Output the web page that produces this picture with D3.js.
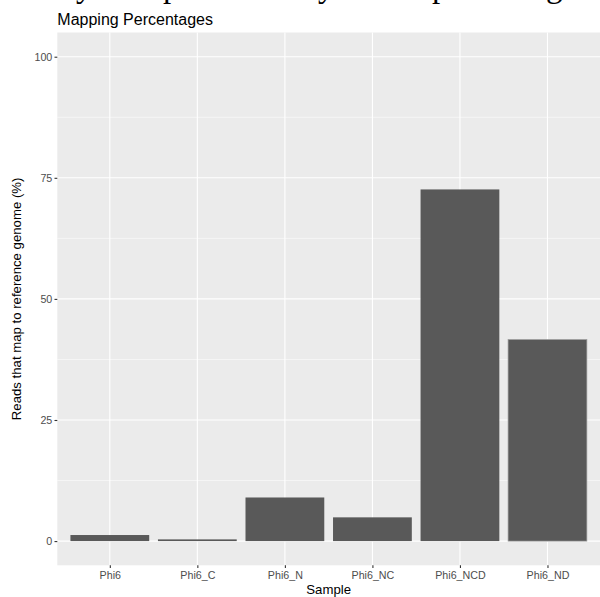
<!DOCTYPE html>
<html>
<head>
<meta charset="utf-8">
<script src="https://cdn.jsdelivr.net/npm/d3@7"></script>
<style>
  body { margin: 0; background: #fff; }
  svg { display: block; }
</style>
</head>
<body>
<svg id="svg1"></svg>
<script>
// Data
const samples = ["Phi6", "Phi6_C", "Phi6_N", "Phi6_NC", "Phi6_NCD", "Phi6_ND"];
const mappedPct = [1.25, 0.35, 9.0, 4.9, 72.6, 41.6];
const yTicks = [0, 25, 50, 75, 100];
const yMinor = [12.5, 37.5, 62.5, 87.5];

// Size
const width = 600;
const height = 597;
const margin = { top: 32.5, right: 0, bottom: 31.7, left: 57.3 };

const svg = d3.select("#svg1")
    .attr("width", width)
    .attr("height", height)
    .style("font-family", "'Liberation Sans', Arial, sans-serif");

// clipped line of page text above the figure (only the descenders show)
const headWords = [
    { w: "Summary", at: 76 },
    { w: "of", at: null },
    { w: "top", at: 163 },
    { w: "five", at: null },
    { w: "hits", at: null },
    { w: "by", at: 318 },
    { w: "mean", at: null },
    { w: "percent", at: 432 },
    { w: "gain", at: 546 }
];
const head = svg.append("text")
    .attr("y", -3.5)
    .style("font-family", "'Liberation Serif', 'Times New Roman', serif")
    .style("font-size", "33px")
    .attr("fill", "#000");
headWords.forEach(d => {
    const t = head.append("tspan").text(d.w + " ");
    if (d.at !== null) {
        const node = t.node();
        const idx = d.w.search(/[gjpqy]/);
        const before = idx > 0 ? node.getSubStringLength(0, idx) : 0;
        t.attr("x", d.at - before);
    }
});

// x: ggplot discrete, 0.6 expansion each side
const x = d3.scaleLinear()
    .domain([0.4, samples.length + 0.6])
    .range([margin.left, width - margin.right]);

const y = d3.scaleLinear()
    .domain([-5, 105])
    .range([height - margin.bottom, margin.top]);

const panel = svg.append("g");

panel.append("rect")
    .attr("x", x(0.4))
    .attr("y", y(105))
    .attr("width", x(samples.length + 0.6) - x(0.4))
    .attr("height", y(-5) - y(105))
    .attr("fill", "#EBEBEB");

// minor grid
panel.selectAll(".minor")
    .data(yMinor)
    .enter()
    .append("line")
    .attr("x1", x(0.4)).attr("x2", x(samples.length + 0.6))
    .attr("y1", d => y(d)).attr("y2", d => y(d))
    .attr("stroke", "#fff")
    .attr("stroke-width", 0.55);

// major grid
panel.selectAll(".major")
    .data(yTicks)
    .enter()
    .append("line")
    .attr("x1", x(0.4)).attr("x2", x(samples.length + 0.6))
    .attr("y1", d => y(d)).attr("y2", d => y(d))
    .attr("stroke", "#fff")
    .attr("stroke-width", 1.1);

panel.selectAll(".vgrid")
    .data(samples)
    .enter()
    .append("line")
    .attr("x1", (d, i) => x(i + 1)).attr("x2", (d, i) => x(i + 1))
    .attr("y1", y(105)).attr("y2", y(-5))
    .attr("stroke", "#fff")
    .attr("stroke-width", 1.1);

// bars
panel.selectAll(".bar")
    .data(samples)
    .enter()
    .append("rect")
    .attr("x", (d, i) => x(i + 1 - 0.45))
    .attr("width", x(0.9) - x(0))
    .attr("y", (d, i) => y(mappedPct[i]))
    .attr("height", (d, i) => y(0) - y(mappedPct[i]))
    .attr("fill", "#595959")
    .attr("stroke", (d, i) => d === "Phi6_ND" ? "#9a9a9a" : "none")
    .attr("stroke-width", 0.7);

// y axis
const yAxis = svg.append("g")
    .attr("transform", `translate(${margin.left},0)`)
    .call(d3.axisLeft(y).tickValues(yTicks).tickSize(2.8).tickPadding(2.2));
yAxis.select(".domain").remove();
yAxis.selectAll("line").attr("stroke", "#333").attr("stroke-width", 1.1);
yAxis.selectAll("text").attr("fill", "#4D4D4D").style("font-size", "10.7px")
    .style("font-family", "'Liberation Sans', Arial, sans-serif");

// x axis
const xAxis = svg.append("g")
    .attr("transform", `translate(0,${height - margin.bottom})`)
    .call(d3.axisBottom(x).tickValues(d3.range(1, samples.length + 1))
        .tickFormat(i => samples[i - 1]).tickSize(2.8).tickPadding(3));
xAxis.select(".domain").remove();
xAxis.selectAll("line").attr("stroke", "#333").attr("stroke-width", 1.1);
xAxis.selectAll("text").attr("fill", "#4D4D4D").style("font-size", "10.7px")
    .style("font-family", "'Liberation Sans', Arial, sans-serif");

// titles
svg.append("text")
    .attr("x", margin.left)
    .attr("y", 25)
    .style("font-size", "16px")
    .attr("fill", "#000")
    .text("Mapping Percentages");

svg.append("text")
    .attr("x", (x(0.4) + x(samples.length + 0.6)) / 2)
    .attr("y", 593.5)
    .attr("text-anchor", "middle")
    .style("font-size", "13.2px")
    .attr("fill", "#000")
    .text("Sample");

svg.append("text")
    .attr("transform", `translate(21,${(y(-5) + y(105)) / 2}) rotate(-90)`)
    .attr("text-anchor", "middle")
    .style("font-size", "13.2px")
    .attr("fill", "#000")
    .text("Reads that map to reference genome (%)");
</script>
</body>
</html>
